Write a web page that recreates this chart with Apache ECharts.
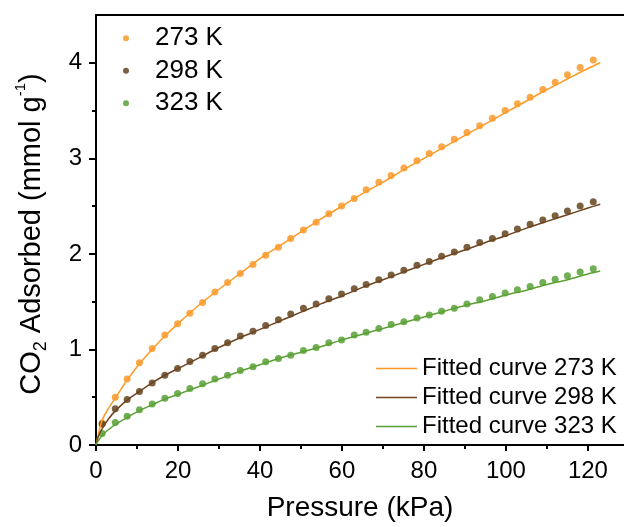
<!DOCTYPE html>
<html>
<head>
<meta charset="utf-8">
<script src="https://cdn.jsdelivr.net/npm/echarts@6/dist/echarts.min.js"></script>
<style>
html,body{margin:0;padding:0;background:#fff;}
#chart{width:624px;height:527px;}
</style>
</head>
<body>
<div id="chart"></div>
<script>
// Measured isotherm points (pressure in kPa, uptake in mmol/g)
const pressure = [1.5, 4.7, 7.6, 10.6, 13.7, 16.8, 19.9, 22.9, 26.0, 29.0,
  32.1, 35.2, 38.3, 41.4, 44.5, 47.5, 50.6, 53.7, 56.8, 59.9,
  63.0, 65.9, 69.0, 72.0, 75.1, 78.3, 81.3, 84.3, 87.4, 90.5,
  93.6, 96.7, 99.8, 102.8, 105.9, 109.0, 112.0, 115.0, 118.1, 121.3];
const q273 = [0.23, 0.50, 0.69, 0.86, 1.01, 1.15, 1.27, 1.38, 1.49, 1.60,
  1.70, 1.795, 1.89, 1.985, 2.07, 2.16, 2.25, 2.33, 2.42, 2.50,
  2.58, 2.67, 2.75, 2.82, 2.90, 2.975, 3.05, 3.12, 3.20, 3.27,
  3.34, 3.42, 3.50, 3.57, 3.64, 3.72, 3.795, 3.875, 3.95, 4.03];
const q298 = [0.22, 0.38, 0.475, 0.56, 0.65, 0.73, 0.80, 0.875, 0.94, 1.01,
  1.07, 1.14, 1.19, 1.25, 1.31, 1.37, 1.43, 1.475, 1.53, 1.58,
  1.635, 1.68, 1.73, 1.78, 1.83, 1.88, 1.92, 1.975, 2.02, 2.07,
  2.12, 2.16, 2.21, 2.26, 2.31, 2.355, 2.40, 2.45, 2.50, 2.545];
const q323 = [0.12, 0.235, 0.30, 0.37, 0.43, 0.49, 0.54, 0.59, 0.64, 0.69,
  0.73, 0.78, 0.82, 0.87, 0.905, 0.94, 0.99, 1.02, 1.07, 1.10,
  1.15, 1.18, 1.22, 1.26, 1.29, 1.33, 1.36, 1.40, 1.43, 1.475,
  1.52, 1.555, 1.59, 1.625, 1.66, 1.70, 1.735, 1.77, 1.81, 1.845];

// Fitted curves
const fitPressure = [0, 0.5, 1.5, 3, 5, 7.6, 10.6, 13.7, 16.8, 20, 25, 30, 35, 40, 45, 50,
  55, 60, 65, 70, 75, 80, 85, 90, 95, 100, 105, 110, 115, 120, 123];
const fit273 = [0, 0.10, 0.26, 0.38, 0.51, 0.68, 0.85, 1.00, 1.14, 1.27, 1.46, 1.63, 1.79, 1.95, 2.09, 2.23,
  2.37, 2.50, 2.63, 2.75, 2.88, 3.00, 3.12, 3.24, 3.36, 3.48, 3.60, 3.72, 3.83, 3.94, 4.00];
const fit298 = [0, 0.08, 0.17, 0.27, 0.37, 0.47, 0.56, 0.65, 0.73, 0.80, 0.91, 1.02, 1.12, 1.21, 1.30, 1.39,
  1.48, 1.56, 1.65, 1.73, 1.81, 1.89, 1.97, 2.04, 2.12, 2.19, 2.27, 2.34, 2.41, 2.48, 2.52];
const fit323 = [0, 0.04, 0.10, 0.16, 0.22, 0.29, 0.36, 0.42, 0.48, 0.53, 0.61, 0.69, 0.77, 0.84, 0.91, 0.97,
  1.03, 1.10, 1.16, 1.22, 1.28, 1.34, 1.40, 1.46, 1.51, 1.57, 1.62, 1.68, 1.73, 1.79, 1.82];

const seriesNames = ['273 K', '298 K', '323 K'];
const fitNames = ['Fitted curve 273 K', 'Fitted curve 298 K', 'Fitted curve 323 K'];

// Axis ticks
const xMajorTicks = [0, 20, 40, 60, 80, 100, 120];
const xMinorTicks = [10, 30, 50, 70, 90, 110];
const yMajorTicks = [0, 1, 2, 3, 4];
const yMinorTicks = [0.5, 1.5, 2.5, 3.5];

const pointColors = ['#F7931E', '#5A3810', '#4E9A2A'];
const lineColors = ['#FF9A26', '#6E4520', '#5BA032'];

const FONT = 'Liberation Sans, Arial, sans-serif';
const zip = (xs, ys) => xs.map((x, i) => [x, ys[i]]);

const chart = echarts.init(document.getElementById('chart'), null, {renderer: 'canvas'});

const XMIN = 0, XMAX = 128.8, YMIN = 0, YMAX = 4.5;
const axisLineStyle = {color: '#000', width: 2};

const option = {
  animation: false,
  backgroundColor: '#fff',
  grid: {left: 96, right: 0, top: 15, bottom: 82, containLabel: false},
  xAxis: [
    {
      type: 'value', min: XMIN, max: XMAX, position: 'bottom',
      axisLine: {show: true, lineStyle: axisLineStyle, onZero: false},
      axisTick: {show: true, inside: false, length: 6, lineStyle: {color: '#000', width: 2}, customValues: xMajorTicks},
      axisLabel: {show: true, margin: 14, fontSize: 24, color: '#000', fontFamily: FONT, customValues: xMajorTicks},
      splitLine: {show: false},
      name: 'Pressure (kPa)', nameLocation: 'middle', nameGap: 49,
      nameTextStyle: {fontSize: 28, color: '#000', fontFamily: FONT}
    },
    {
      type: 'value', min: XMIN, max: XMAX, position: 'bottom',
      axisLine: {show: false, onZero: false},
      axisTick: {show: true, inside: false, length: 4, lineStyle: {color: '#000', width: 2}, customValues: xMinorTicks},
      axisLabel: {show: false},
      splitLine: {show: false}
    },
    {
      type: 'value', min: XMIN, max: XMAX, position: 'top',
      axisLine: {show: true, lineStyle: axisLineStyle, onZero: false},
      axisTick: {show: false}, axisLabel: {show: false}, splitLine: {show: false}
    }
  ],
  yAxis: [
    {
      type: 'value', min: YMIN, max: YMAX, position: 'left',
      axisLine: {show: true, lineStyle: axisLineStyle, onZero: false},
      axisTick: {show: true, inside: false, length: 7, lineStyle: {color: '#000', width: 2}, customValues: yMajorTicks},
      axisLabel: {show: true, margin: 14, fontSize: 24, color: '#000', fontFamily: FONT, customValues: yMajorTicks},
      splitLine: {show: false}
    },
    {
      type: 'value', min: YMIN, max: YMAX, position: 'left',
      axisLine: {show: false, onZero: false},
      axisTick: {show: true, inside: false, length: 4, lineStyle: {color: '#000', width: 2}, customValues: yMinorTicks},
      axisLabel: {show: false},
      splitLine: {show: false}
    }
  ],
  legend: [
    {
      data: seriesNames, orient: 'vertical', left: 118, top: 17,
      itemWidth: 48, itemHeight: 6, itemGap: 0, icon: 'circle',
      textStyle: {fontSize: 26, color: '#000', fontFamily: FONT, lineHeight: 32.5}
    },
    {
      data: fitNames, orient: 'vertical', left: 371, top: 349,
      itemWidth: 41, itemHeight: 1.5, itemGap: 0, icon: 'rect',
      textStyle: {fontSize: 24, color: '#000', fontFamily: FONT, lineHeight: 29}
    }
  ],
  graphic: [
    {
      type: 'text', x: 32, y: 234, rotation: Math.PI / 2,
      style: {
        text: '{a|CO}{s|2}{a| Adsorbed (mmol g}{p|-1}{a|)}',
        align: 'center', verticalAlign: 'middle',
        fill: '#000',
        rich: {
          a: {fontSize: 29, fontFamily: FONT, lineHeight: 37, fill: '#000', verticalAlign: 'middle'},
          s: {fontSize: 18, fontFamily: FONT, lineHeight: 18, fill: '#000', verticalAlign: 'bottom'},
          p: {fontSize: 15, fontFamily: FONT, lineHeight: 15, fill: '#000', verticalAlign: 'top'}
        }
      }
    }
  ],
  series: [
    ...[fit273, fit298, fit323].map((f, i) => ({
      name: fitNames[i], type: 'line', xAxisIndex: 0, yAxisIndex: 0,
      data: zip(fitPressure, f), symbol: 'none', smooth: 0.3,
      lineStyle: {color: lineColors[i], width: 1.5},
      itemStyle: {color: lineColors[i]}, z: 3
    })),
    ...[q273, q298, q323].map((q, i) => ({
      name: seriesNames[i], type: 'scatter', xAxisIndex: 0, yAxisIndex: 0,
      data: zip(pressure, q), symbol: 'circle', symbolSize: 7,
      itemStyle: {color: pointColors[i]}, z: 2
    }))
  ]
};
chart.setOption(option);
</script>
</body>
</html>
